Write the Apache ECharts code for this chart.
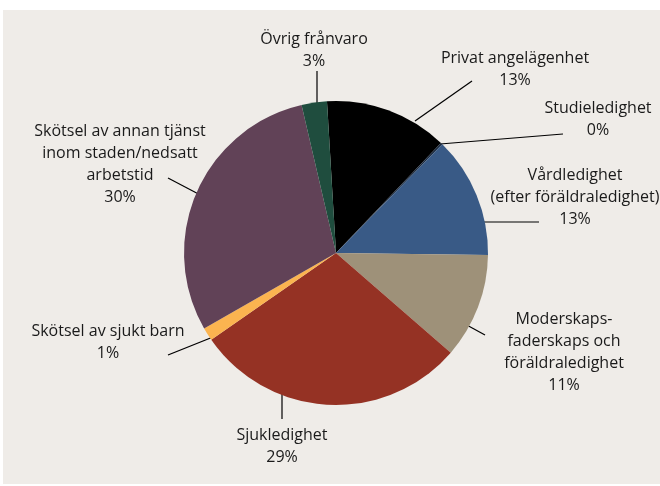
<!DOCTYPE html>
<html>
<head>
<meta charset="utf-8">
<script src="https://cdn.jsdelivr.net/npm/echarts@6/dist/echarts.min.js"></script>
<style>html,body{margin:0;padding:0;background:#fff}#c{width:660px;height:486px}</style>
</head>
<body>
<div id="c"></div>
<script>
const categories = [
  'Privat angelägenhet',
  'Studieledighet',
  'Vårdledighet\n(efter föräldraledighet)',
  'Moderskaps-\nfaderskaps och\nföräldraledighet',
  'Sjukledighet',
  'Skötsel av sjukt barn',
  'Skötsel av annan tjänst\ninom staden/nedsatt\narbetstid',
  'Övrig frånvaro'
];
const values = [13.1, 0.2, 12.9, 11.2, 29.0, 1.4, 29.7, 2.7];
const colors = ['#000000', '#1c2c42', '#395a86', '#9e9179', '#953224', '#fbb450', '#614257', '#1f4d3e'];

// label placement (label centre, leader line start/end)
const labelPlace = [
  { x: 515, y: 69,  line: [[415, 121], [472, 81]] },
  { x: 598, y: 119, line: [[440, 144], [563, 134]] },
  { x: 575, y: 197, line: [[476, 222], [539, 222]] },
  { x: 564, y: 352, line: [[443, 312], [485, 335]] },
  { x: 282, y: 446, line: [[282, 382], [282, 419]] },
  { x: 108, y: 342, line: [[213, 337], [168, 355]] },
  { x: 120, y: 164, line: [[227, 209], [168, 178]] },
  { x: 314, y: 50,  line: [[317, 108], [317, 71]] }
];

const chart = echarts.init(document.getElementById('c'), null, { renderer: 'canvas' });
chart.setOption({
  animation: false,
  backgroundColor: '#ffffff',
  graphic: [{
    type: 'rect', z: -10, silent: true,
    shape: { x: 3, y: 10, width: 657, height: 474 },
    style: { fill: '#efece8' }
  }],
  series: [{
    type: 'pie',
    center: [336, 253],
    radius: [0, 152],
    startAngle: 93.4,
    clockwise: true,
    avoidLabelOverlap: false,
    percentPrecision: 0,
    data: categories.map((n, i) => ({ name: n, value: values[i], itemStyle: { color: colors[i] } })),
    itemStyle: { borderWidth: 0 },
    label: {
      show: true,
      position: 'outside',
      formatter: '{b}\n{d}%',
      fontFamily: 'Open Sans',
      fontSize: 16,
      lineHeight: 22,
      color: '#1a1a1a',
      align: 'center'
    },
    labelLine: { show: true, lineStyle: { color: '#000', width: 1.2 } },
    labelLayout: function (p) {
      const L = labelPlace[p.dataIndex];
      return {
        x: L.x, y: L.y, align: 'center', verticalAlign: 'middle',
        labelLinePoints: [L.line[0], L.line[1], L.line[1]]
      };
    }
  }]
});
</script>
</body>
</html>
